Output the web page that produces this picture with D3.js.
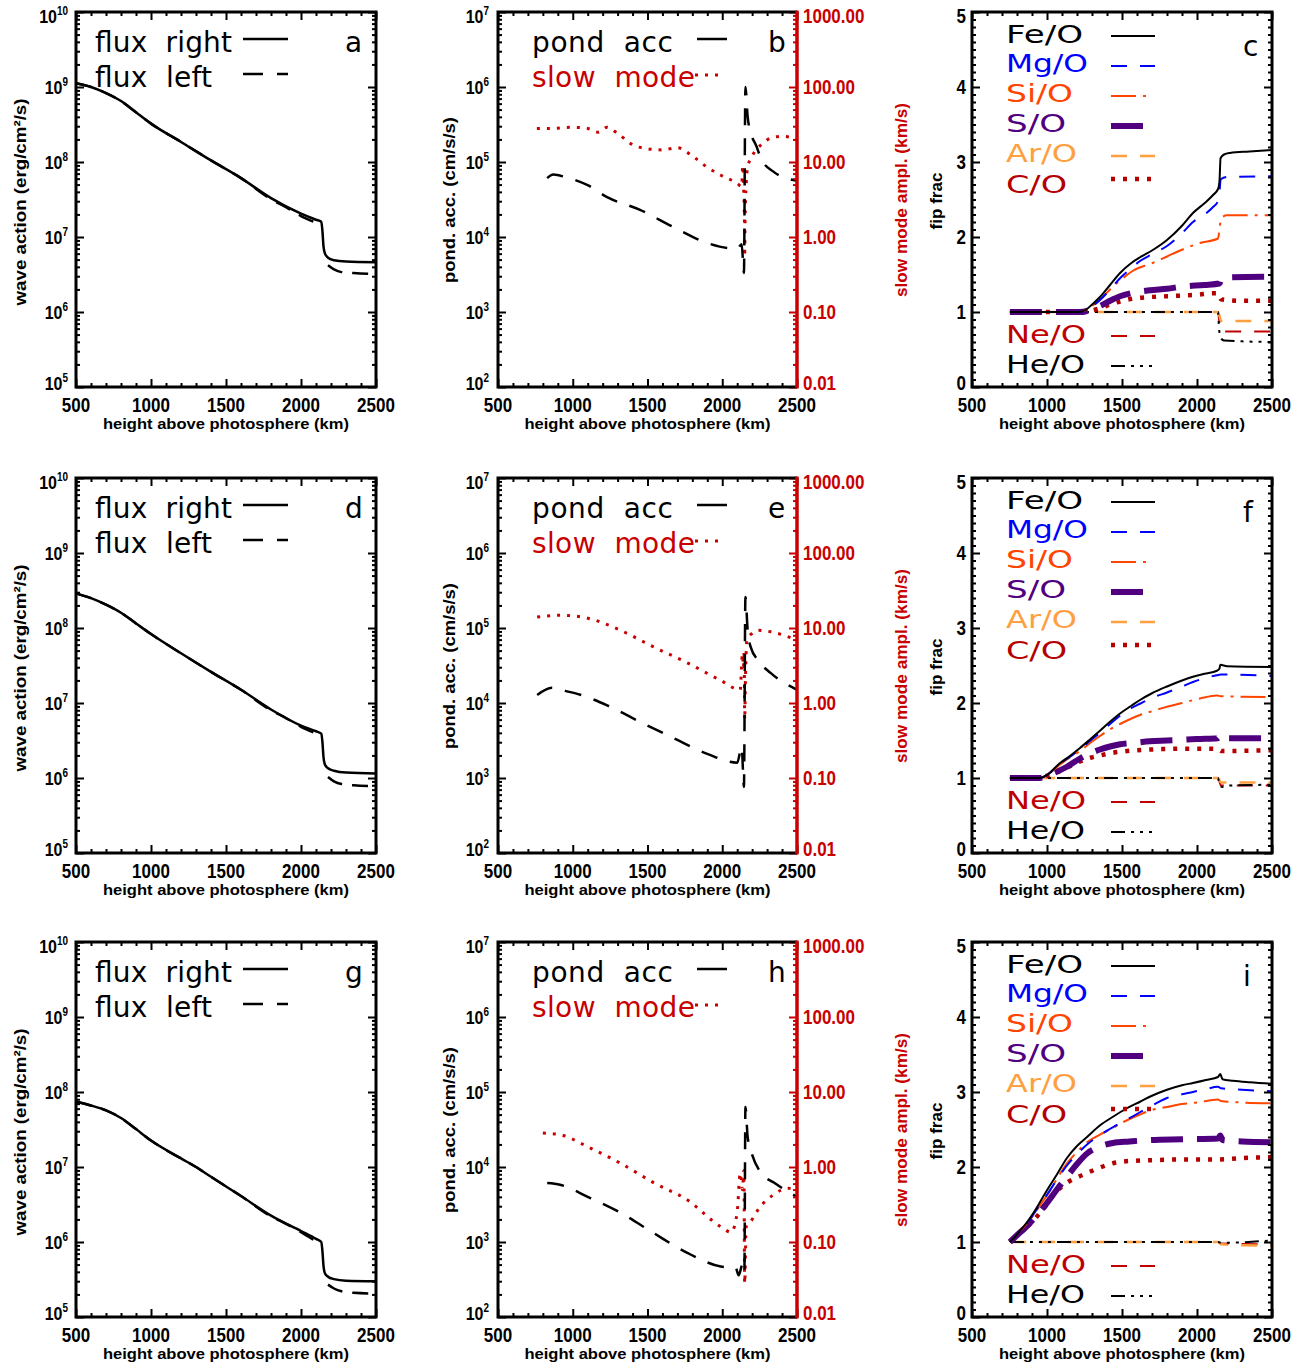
<!DOCTYPE html>
<html><head><meta charset="utf-8">
<script src="https://cdn.jsdelivr.net/npm/d3@7"></script>
<style>body{margin:0;background:#fff}svg{display:block}</style>
</head><body>
<svg id="chart" width="1312" height="1366"></svg>
<script>
// ---------------- tick values / labels ----------------
const heightTicks = [500, 1000, 1500, 2000, 2500];
const heightMinor = [600,700,800,900,1100,1200,1300,1400,1600,1700,1800,1900,2100,2200,2300,2400];
const waveExps = [5, 6, 7, 8, 9, 10];
const pondExps = [2, 3, 4, 5, 6, 7];
const slowTicks = [0.01, 0.1, 1, 10, 100, 1000];
const slowLabels = ["0.01", "0.10", "1.00", "10.00", "100.00", "1000.00"];
const fipTicks = [0, 1, 2, 3, 4, 5];
const panelLetters = [["a","b","c"],["d","e","f"],["g","h","i"]];
const fipSpecies = ["Fe/O","Mg/O","Si/O","S/O","Ar/O","C/O","Ne/O","He/O"];

// ---------------- data: wave action (erg/cm^2/s) ----------------
const fluxRightA = [[500,1.12e9],[600,1.0e9],[700,8.3e8],[800,6.5e8],[900,4.6e8],[1000,3.25e8],[1200,1.85e8],[1400,1.05e8],[1600,6.1e7],[1800,3.3e7],[2000,2.05e7],[2100,1.7e7],[2135,1.6e7],[2143,1.2e7],[2150,7.5e6],[2160,6.0e6],[2180,5.3e6],[2220,4.9e6],[2300,4.7e6],[2500,4.6e6]];
const fluxLeftA  = [[500,1.12e9],[600,1.0e9],[700,8.3e8],[800,6.5e8],[900,4.6e8],[1000,3.25e8],[1200,1.85e8],[1400,1.05e8],[1600,6.1e7],[1800,3.2e7],[1900,2.5e7],[2000,1.9e7],[2090,1.58e7],[2100,null],[2180,4.2e6],[2220,3.7e6],[2270,3.4e6],[2350,3.3e6],[2500,3.2e6]];
const fluxRightD = [[500,2.9e8],[600,2.5e8],[700,2.05e8],[800,1.6e8],[900,1.15e8],[1000,8.3e7],[1200,4.6e7],[1400,2.6e7],[1600,1.5e7],[1800,8.2e6],[2000,5.0e6],[2100,4.2e6],[2135,3.9e6],[2143,3.0e6],[2150,1.9e6],[2160,1.5e6],[2180,1.35e6],[2220,1.25e6],[2300,1.18e6],[2500,1.15e6]];
const fluxLeftD  = [[500,2.9e8],[600,2.5e8],[700,2.05e8],[800,1.6e8],[900,1.15e8],[1000,8.3e7],[1200,4.6e7],[1400,2.6e7],[1600,1.5e7],[1800,8.0e6],[1900,6.3e6],[2000,4.8e6],[2090,4.0e6],[2100,null],[2180,1.03e6],[2220,9.0e5],[2270,8.3e5],[2350,8.0e5],[2500,7.8e5]];
const fluxRightG = [[500,7.4e7],[600,6.6e7],[700,5.7e7],[800,4.5e7],[900,3.2e7],[1000,2.25e7],[1200,1.3e7],[1300,1.0e7],[1400,7.4e6],[1600,4.1e6],[1800,2.25e6],[2000,1.4e6],[2100,1.1e6],[2135,1.0e6],[2143,7.5e5],[2150,4.8e5],[2160,3.8e5],[2180,3.45e5],[2220,3.2e5],[2300,3.05e5],[2500,3.0e5]];
const fluxLeftG  = [[500,7.4e7],[600,6.6e7],[700,5.7e7],[800,4.5e7],[900,3.2e7],[1000,2.25e7],[1200,1.3e7],[1300,1.0e7],[1400,7.4e6],[1600,4.1e6],[1800,2.2e6],[1900,1.75e6],[2000,1.35e6],[2090,1.05e6],[2100,null],[2180,2.7e5],[2220,2.4e5],[2270,2.2e5],[2350,2.1e5],[2500,2.05e5]];

// ---------------- data: ponderomotive acceleration (cm/s/s) & slow mode amplitude (km/s) ----------------
const pondB = [[829,6.1e4],[870,6.8e4],[950,6.3e4],[1100,4.9e4],[1230,3.4e4],[1450,2.3e4],[1675,1.35e4],[1900,8.3e3],[2040,7.1e3],[2100,7.0e3],[2130,8.0e3],[2145,3.3e3],[2155,1.0e6],[2170,4.0e5],[2190,2.5e5],[2230,1.6e5],[2260,1.1e5],[2340,7.5e4],[2500,5.6e4]];
const slowB = [[760,28],[850,28],[1000,29],[1100,28],[1170,25],[1230,29],[1300,24],[1400,17],[1500,15],[1600,14.5],[1700,15.5],[1800,12],[1900,8.5],[2000,6.5],[2100,5.2],[2130,4.7],[2137,9],[2143,4.5],[2148,2.0],[2150,0.55],[2153,1.8],[2160,5.0],[2170,8.5],[2200,12],[2260,17],[2330,21],[2400,22],[2470,21],[2500,20]];
const pondE = [[762,1.28e4],[860,1.6e4],[950,1.45e4],[1050,1.29e4],[1230,9.3e3],[1450,5.6e3],[1675,3.4e3],[1900,2.1e3],[2100,1.6e3],[2130,2.6e3],[2145,7.6e2],[2155,2.6e5],[2170,9.3e4],[2190,5.6e4],[2240,3.7e4],[2325,2.5e4],[2500,1.5e4]];
const slowE = [[762,14],[915,14.8],[1100,13.5],[1320,9.3],[1540,5.6],[1770,3.4],[1990,2.0],[2120,1.5],[2135,4.5],[2142,3.0],[2147,5.0],[2150,0.6],[2155,2.0],[2165,6.9],[2200,8.5],[2240,9.3],[2325,8.9],[2500,6.9]];
const pondH = [[829,6.1e3],[915,5.8e3],[1100,4.0e3],[1320,2.45e3],[1540,1.32e3],[1770,7.1e2],[1990,4.7e2],[2090,4.5e2],[2110,3.6e2],[2135,5.0e2],[2148,3.9e2],[2155,6.3e4],[2170,2.5e4],[2190,1.7e4],[2260,8.3e3],[2345,6.2e3],[2500,4.0e3]];
const slowH = [[800,2.84],[915,2.7],[1100,1.86],[1320,1.12],[1540,0.62],[1770,0.36],[1990,0.16],[2060,0.135],[2100,0.25],[2120,0.83],[2135,0.5],[2145,0.9],[2150,0.028],[2160,0.16],[2200,0.2],[2240,0.27],[2345,0.43],[2440,0.52],[2500,0.47]];

// ---------------- data: fip fractionation ----------------
const feC = [[753,1],[1220,1],[1260,1.03],[1300,1.1],[1353,1.2],[1420,1.36],[1487,1.52],[1560,1.65],[1620,1.73],[1700,1.82],[1800,1.96],[1900,2.15],[1973,2.32],[2050,2.45],[2107,2.56],[2140,2.64],[2150,2.75],[2157,3.05],[2180,3.1],[2220,3.12],[2350,3.14],[2500,3.16]];
const mgC = [[753,1],[1220,1],[1260,1.02],[1300,1.07],[1353,1.16],[1420,1.3],[1487,1.45],[1560,1.58],[1620,1.68],[1700,1.77],[1800,1.88],[1900,2.05],[1973,2.2],[2050,2.3],[2107,2.4],[2140,2.48],[2150,2.6],[2158,2.77],[2200,2.8],[2500,2.81]];
const siC = [[753,1],[1220,1],[1260,1.03],[1300,1.08],[1353,1.16],[1420,1.3],[1487,1.42],[1573,1.55],[1700,1.65],[1800,1.74],[1900,1.83],[2020,1.92],[2140,1.98],[2150,2.1],[2160,2.25],[2200,2.29],[2500,2.29]];
const sC  = [[753,1],[1220,1],[1260,1.01],[1300,1.04],[1353,1.08],[1420,1.15],[1487,1.21],[1560,1.25],[1687,1.29],[1800,1.31],[1907,1.34],[2050,1.36],[2150,1.38],[2165,1.45],[2200,1.46],[2500,1.47]];
const arC = [[753,1],[2140,1],[2150,0.95],[2160,0.88],[2500,0.88]];
const cC  = [[753,1],[1220,1],[1300,1.02],[1353,1.05],[1420,1.1],[1487,1.14],[1580,1.18],[1687,1.2],[1800,1.21],[1900,1.22],[2000,1.23],[2107,1.25],[2140,1.25],[2160,1.17],[2300,1.15],[2500,1.15]];
const neC = [[753,1],[2140,1],[2150,0.85],[2160,0.74],[2500,0.74]];
const heC = [[753,1],[2140,1],[2145,0.85],[2150,0.72],[2160,0.65],[2180,0.62],[2500,0.6]];

const feF = [[753,1],[953,1],[1000,1.04],[1087,1.2],[1150,1.29],[1220,1.4],[1290,1.52],[1353,1.63],[1420,1.75],[1487,1.86],[1560,1.96],[1620,2.04],[1700,2.13],[1800,2.22],[1900,2.3],[1973,2.35],[2050,2.39],[2133,2.43],[2150,2.46],[2155,2.51],[2200,2.49],[2500,2.48]];
const mgF = [[753,1],[953,1],[1000,1.04],[1087,1.19],[1150,1.28],[1220,1.38],[1290,1.5],[1353,1.6],[1420,1.72],[1487,1.83],[1560,1.93],[1620,1.99],[1700,2.07],[1800,2.14],[1900,2.22],[1973,2.28],[2050,2.33],[2133,2.37],[2160,2.38],[2500,2.36]];
const siF = [[753,1],[953,1],[1000,1.04],[1087,1.18],[1150,1.27],[1220,1.36],[1290,1.47],[1353,1.56],[1420,1.65],[1487,1.72],[1560,1.79],[1620,1.84],[1700,1.89],[1800,1.95],[1900,2.0],[2020,2.06],[2133,2.1],[2160,2.09],[2500,2.08]];
const sF  = [[753,1],[953,1],[1000,1.03],[1050,1.07],[1133,1.15],[1220,1.26],[1290,1.33],[1353,1.38],[1420,1.42],[1487,1.45],[1587,1.47],[1687,1.49],[1800,1.5],[1900,1.51],[2000,1.52],[2140,1.53],[2153,1.57],[2165,1.53],[2500,1.53]];
const arF = [[753,1],[2140,1],[2160,0.94],[2500,0.94]];
const cF  = [[753,1],[953,1],[1000,1.03],[1050,1.06],[1133,1.14],[1220,1.22],[1290,1.27],[1353,1.3],[1420,1.33],[1487,1.35],[1600,1.37],[1700,1.38],[1900,1.39],[2140,1.39],[2160,1.36],[2500,1.37]];
const neF = [[753,1],[2140,1],[2160,0.9],[2500,0.9]];
const heF = [[753,1],[2140,1],[2150,0.9],[2170,0.88],[2220,0.9],[2500,0.91]];

const feI = [[753,1],[800,1.1],[850,1.22],[907,1.38],[950,1.52],[1000,1.69],[1066,1.9],[1133,2.12],[1200,2.28],[1267,2.4],[1350,2.55],[1440,2.67],[1530,2.78],[1620,2.87],[1700,2.95],[1800,3.03],[1900,3.09],[1973,3.12],[2060,3.16],[2140,3.2],[2155,3.24],[2170,3.17],[2240,3.15],[2350,3.13],[2500,3.11]];
const mgI = [[753,1],[800,1.1],[850,1.21],[907,1.36],[950,1.49],[1000,1.63],[1066,1.83],[1133,2.02],[1200,2.17],[1267,2.3],[1350,2.42],[1440,2.53],[1530,2.63],[1620,2.73],[1700,2.82],[1800,2.92],[1900,2.97],[1973,3.0],[2060,3.04],[2140,3.07],[2160,3.05],[2300,3.03],[2500,3.01]];
const siI = [[753,1],[800,1.1],[850,1.21],[907,1.35],[950,1.48],[1000,1.62],[1066,1.84],[1133,2.05],[1200,2.2],[1267,2.33],[1350,2.43],[1440,2.52],[1530,2.62],[1620,2.7],[1700,2.76],[1800,2.8],[1900,2.84],[2000,2.86],[2140,2.9],[2160,2.88],[2300,2.86],[2500,2.85]];
const sI  = [[753,1],[800,1.09],[850,1.18],[907,1.3],[950,1.4],[1000,1.52],[1066,1.7],[1133,1.87],[1200,2.04],[1267,2.18],[1350,2.27],[1440,2.32],[1550,2.34],[1687,2.36],[1900,2.37],[2140,2.38],[2155,2.42],[2170,2.36],[2300,2.34],[2500,2.33]];
const arI = [[753,1],[2140,1],[2160,0.97],[2500,0.95]];
const cI  = [[753,1],[800,1.09],[850,1.17],[907,1.28],[950,1.38],[1000,1.5],[1040,1.62],[1133,1.79],[1200,1.86],[1267,1.92],[1350,1.99],[1440,2.05],[1550,2.08],[1687,2.09],[1900,2.1],[2140,2.1],[2300,2.12],[2500,2.13]];
const neI = [[753,1],[2140,1],[2160,0.98],[2500,0.97]];
const heI = [[753,1],[2140,1],[2160,0.99],[2500,1.02]];

// grouping per row
const fluxRight = [fluxRightA, fluxRightD, fluxRightG];
const fluxLeft  = [fluxLeftA, fluxLeftD, fluxLeftG];
const pondAcc   = [pondB, pondE, pondH];
const slowMode  = [slowB, slowE, slowH];
const fipData = {
  "Fe/O": [feC, feF, feI], "Mg/O": [mgC, mgF, mgI], "Si/O": [siC, siF, siI], "S/O": [sC, sF, sI],
  "Ar/O": [arC, arF, arI], "C/O": [cC, cF, cI], "Ne/O": [neC, neF, neI], "He/O": [heC, heF, heI]
};

// ---------------- layout & styles ----------------
const colX = [[76, 376], [498, 797], [972, 1272]];
const rowTop = [12, 478, 942];
const PH = 375;
const RED = "#c80000";
const FONT_B = "'Liberation Sans', Arial, Helvetica, sans-serif";
const FONT_L = "'DejaVu Sans', 'Liberation Sans', sans-serif";
const SY = 1.2;

const fipStyle = {
  "Fe/O": {color: "#000000", w: 2,   dash: null,               len: 44, tl: 77},
  "Mg/O": {color: "#0000ff", w: 2,   dash: "16,13",            len: 44, tl: 82},
  "Si/O": {color: "#ff4500", w: 2,   dash: "25,7,3,7",         len: 38, tl: 67},
  "S/O":  {color: "#50007f", w: 6,   dash: "32,14",            len: 33, tl: 60},
  "Ar/O": {color: "#ffa040", w: 2.5, dash: "16,13",            len: 44, tl: 71},
  "C/O":  {color: "#b40000", w: 4.5, dash: "4,8",              len: 40, tl: 61},
  "Ne/O": {color: "#c00000", w: 2,   dash: "16,13",            len: 44, tl: 80},
  "He/O": {color: "#000000", w: 2,   dash: "14,6,3,6,3,6,3,6", len: 44, tl: 79}
};
const legTextY = [31, 60, 90, 120, 150, 181, 331, 361];
const legLineY = [24, 54, 84, 114, 144, 167, 324, 354];

const svg = d3.select("#chart");

function label(g, x, y, text, anchor, size, color, sup) {
  const t = g.append("text")
    .attr("transform", `translate(${x},${y}) scale(1,${SY})`)
    .attr("text-anchor", anchor).attr("font-family", FONT_B).attr("font-weight", "bold")
    .attr("font-size", size).attr("fill", color || "#000");
  t.append("tspan").text(text);
  if (sup != null) t.append("tspan").attr("font-size", size * 0.62).attr("dy", -size * 0.42).text(sup);
  return t;
}
// vertical nudge so that the end labels stay inside the frame (as in the reference)
function nudge(i, n) { return i === 0 ? -4 : (i === n - 1 ? 4 : 0); }
function vtitle(g, x, cy, text, tl, color) {
  g.append("text").attr("transform", `translate(${x},${cy}) rotate(-90) scale(1,1.12)`)
    .attr("text-anchor", "middle").attr("font-family", FONT_B).attr("font-weight", "bold")
    .attr("font-size", 14).attr("fill", color || "#000")
    .attr("textLength", tl).attr("lengthAdjust", "spacingAndGlyphs").text(text);
}
function legText(g, x, y, text, tl, color, size, adjust) {
  g.append("text").attr("x", x).attr("y", y).style("white-space", "pre")
    .attr("font-family", FONT_L).attr("font-size", size || 28).attr("fill", color || "#000")
    .attr("textLength", tl).attr("lengthAdjust", adjust || "spacing").text(text);
}
function legLine(g, x1, x2, y, color, w, dash) {
  g.append("line").attr("x1", x1).attr("x2", x2).attr("y1", y).attr("y2", y)
    .attr("stroke", color).attr("stroke-width", w).attr("stroke-dasharray", dash || null);
}
function drawSeries(g, x, y, data, color, w, dash) {
  const line = d3.line().defined(d => d[1] != null).x(d => x(d[0])).y(d => y(d[1]))
    .curve(d3.curveMonotoneX);
  g.append("path").datum(data).attr("d", line).attr("fill", "none")
    .attr("stroke", color).attr("stroke-width", w).attr("stroke-dasharray", dash || null)
    .attr("stroke-linejoin", "round");
}
function ticks(g, gen, scale, vals, size, tx, ty, color) {
  const a = g.append("g").attr("transform", `translate(${tx},${ty})`)
    .call(gen(scale).tickValues(vals).tickSizeInner(size).tickSizeOuter(0).tickFormat(""));
  a.select(".domain").remove();
  a.selectAll("line").attr("stroke", color || "#000").attr("stroke-width", 2);
}
function logMinor(exps) {
  const out = [];
  for (let e = exps[0]; e < exps[exps.length - 1]; e++)
    for (let m = 2; m <= 9; m++) out.push(m * Math.pow(10, e));
  return out;
}
function xFrame(g, x, top, bot) {
  ticks(g, d3.axisBottom, x, heightTicks, -8, 0, bot);
  ticks(g, d3.axisBottom, x, heightMinor, -4, 0, bot);
  ticks(g, d3.axisTop, x, heightTicks, -8, 0, top);
  ticks(g, d3.axisTop, x, heightMinor, -4, 0, top);
  heightTicks.forEach(v => label(g, x(v), bot + 25, String(v), "middle", 17));
  g.append("text").attr("x", (x.range()[0] + x.range()[1]) / 2).attr("y", bot + 42)
    .attr("text-anchor", "middle").attr("font-family", FONT_B).attr("font-weight", "bold")
    .attr("font-size", 15).attr("textLength", 246).attr("lengthAdjust", "spacingAndGlyphs")
    .text("height above photosphere (km)");
}

for (let r = 0; r < 3; r++) {
  const top = rowTop[r], bot = top + PH;
  // ---------- column 1: wave action ----------
  {
    const g = svg.append("g");
    const [x0, x1] = colX[0];
    const x = d3.scaleLinear().domain([500, 2500]).range([x0, x1]);
    const y = d3.scaleLog().domain([1e5, 1e10]).range([bot, top]);
    drawSeries(g, x, y, fluxLeft[r], "#000", 2.5, "16,10");
    drawSeries(g, x, y, fluxRight[r], "#000", 2.5, null);
    const maj = waveExps.map(e => Math.pow(10, e)), mn = logMinor(waveExps);
    ticks(g, d3.axisLeft, y, maj, -8, x0, 0); ticks(g, d3.axisLeft, y, mn, -4, x0, 0);
    ticks(g, d3.axisRight, y, maj, -8, x1, 0); ticks(g, d3.axisRight, y, mn, -4, x1, 0);
    xFrame(g, x, top, bot);
    g.append("rect").attr("x", x0).attr("y", top).attr("width", x1 - x0).attr("height", PH)
      .attr("fill", "none").attr("stroke", "#000").attr("stroke-width", 3);
    waveExps.forEach((e, i) => label(g, x0 - 8, y(Math.pow(10, e)) + 7 + nudge(i, waveExps.length), "10", "end", 16, "#000", String(e)));
    vtitle(g, 26, top + 190, "wave action (erg/cm\u00b2/s)", 207);
    legText(g, 95, top + 40, "flux  right", 137);
    legText(g, 95, top + 75, "flux  left", 117);
    legLine(g, 243, 288, top + 27, "#000", 2.5, null);
    legLine(g, 243, 288, top + 62, "#000", 2.5, "20,14");
    legText(g, 345, top + 40, panelLetters[r][0], 15);
  }
  // ---------- column 2: ponderomotive acceleration / slow mode ----------
  {
    const g = svg.append("g");
    const [x0, x1] = colX[1];
    const x = d3.scaleLinear().domain([500, 2500]).range([x0, x1]);
    const yL = d3.scaleLog().domain([1e2, 1e7]).range([bot, top]);
    const yR = d3.scaleLog().domain([0.01, 1000]).range([bot, top]);
    drawSeries(g, x, yR, slowMode[r], RED, 3, "3,7");
    drawSeries(g, x, yL, pondAcc[r], "#000", 2.5, "17,13");
    const maj = pondExps.map(e => Math.pow(10, e)), mn = logMinor(pondExps);
    ticks(g, d3.axisLeft, yL, maj, -8, x0, 0); ticks(g, d3.axisLeft, yL, mn, -4, x0, 0);
    const mnR = logMinor([-2, 3]);
    ticks(g, d3.axisRight, yR, slowTicks, -8, x1, 0, RED); ticks(g, d3.axisRight, yR, mnR, -4, x1, 0, RED);
    xFrame(g, x, top, bot);
    g.append("path").attr("d", `M${x1},${top}H${x0}V${bot}H${x1}`).attr("fill", "none")
      .attr("stroke", "#000").attr("stroke-width", 3);
    g.append("line").attr("x1", x1).attr("x2", x1).attr("y1", top - 1.5).attr("y2", bot + 1.5)
      .attr("stroke", RED).attr("stroke-width", 3.5);
    pondExps.forEach((e, i) => label(g, x0 - 9, yL(Math.pow(10, e)) + 7 + nudge(i, pondExps.length), "10", "end", 16, "#000", String(e)));
    slowTicks.forEach((v, i) => label(g, x1 + 6, yR(v) + 7 + nudge(i, slowTicks.length), slowLabels[i], "start", 17, RED));
    vtitle(g, 455, top + 188, "pond. acc. (cm/s/s)", 166);
    vtitle(g, 907, top + 188, "slow mode ampl. (km/s)", 194, RED);
    legText(g, 532, top + 40, "pond  acc", 141);
    legText(g, 532, top + 75, "slow  mode", 163, RED);
    legLine(g, 697, 727, top + 27, "#000", 2.5, null);
    legLine(g, 695, 725, top + 63, RED, 3, "3,7");
    legText(g, 768, top + 40, panelLetters[r][1], 15);
  }
  // ---------- column 3: fip fractionation ----------
  {
    const g = svg.append("g");
    const [x0, x1] = colX[2];
    const x = d3.scaleLinear().domain([500, 2500]).range([x0, x1]);
    const y = d3.scaleLinear().domain([0, 5]).range([bot, top]);
    const drawOrder = ["Ne/O", "Ar/O", "He/O", "C/O", "S/O", "Si/O", "Mg/O", "Fe/O"];
    drawOrder.forEach(s => {
      const st = fipStyle[s];
      drawSeries(g, x, y, fipData[s][r], st.color, st.w, st.dash);
    });
    const mn = d3.range(1, 50).filter(k => k % 10 !== 0).map(k => k / 10);
    ticks(g, d3.axisLeft, y, fipTicks, -8, x0, 0); ticks(g, d3.axisLeft, y, mn, -4, x0, 0);
    ticks(g, d3.axisRight, y, fipTicks, -8, x1, 0); ticks(g, d3.axisRight, y, mn, -4, x1, 0);
    xFrame(g, x, top, bot);
    g.append("rect").attr("x", x0).attr("y", top).attr("width", x1 - x0).attr("height", PH)
      .attr("fill", "none").attr("stroke", "#000").attr("stroke-width", 3);
    fipTicks.forEach((v, i) => label(g, x0 - 6, y(v) + 7 + nudge(i, fipTicks.length), String(v), "end", 17));
    vtitle(g, 942, top + 189, "fip frac", 57);
    fipSpecies.forEach((s, i) => {
      const st = fipStyle[s];
      legText(g, 1006, top + legTextY[i], s, st.tl, st.color, 25, "spacingAndGlyphs");
      legLine(g, 1111, 1111 + st.len, top + legLineY[i], st.color, st.w, st.dash);
    });
    legText(g, 1243, top + 44, panelLetters[r][2], panelLetters[r][2] === "i" ? 5 : (panelLetters[r][2] === "f" ? 8 : 13));
  }
}
</script>
</body></html>
